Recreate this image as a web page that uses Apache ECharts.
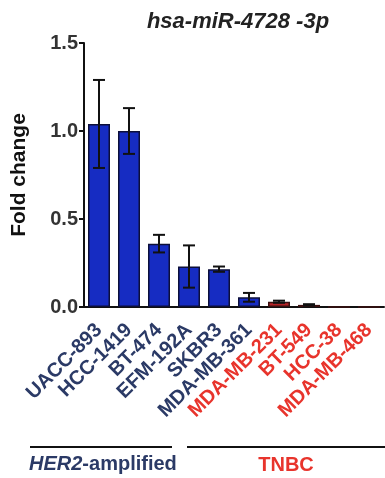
<!DOCTYPE html>
<html><head><meta charset="utf-8">
<script src="https://cdn.jsdelivr.net/npm/echarts@6/dist/echarts.min.js"></script>
<style>html,body{margin:0;padding:0;background:#fff}#c{width:385px;height:478px}</style>
</head><body><div id="c"></div>
<script>
const categories = ['UACC-893','HCC-1419','BT-474','EFM-192A','SKBR3','MDA-MB-361','MDA-MB-231','BT-549','HCC-38','MDA-MB-468'];
const groups = ['HER2','HER2','HER2','HER2','HER2','HER2','TNBC','TNBC','TNBC','TNBC'];
const foldChange = [1.04, 1.00, 0.36, 0.23, 0.215, 0.055, 0.03, 0.012, 0.0, 0.0];
const errors = [0.25, 0.13, 0.05, 0.12, 0.015, 0.025, 0.006, 0.004, 0.0, 0.0];
const yTicks = [0, 0.5, 1.0, 1.5];

const FONT = '"Liberation Sans", Arial, Helvetica, sans-serif';
const NAVY = '#2b3a66', RED = '#e8342c';
const chart = echarts.init(document.getElementById('c'));
const errData = categories.map((c, i) => [i, foldChange[i] - errors[i], foldChange[i] + errors[i]]);
chart.setOption({
  animation: false,
  title: { text: 'hsa-miR-4728 -3p', left: 233, top: 6, textAlign: 'center',
    textStyle: { fontFamily: FONT, fontSize: 22, fontWeight: 'bold', fontStyle: 'italic', color: '#222' } },
  grid: { left: 84, right: 1, top: 43, bottom: 171, containLabel: false },
  xAxis: {
    type: 'category', data: categories,
    axisLine: { lineStyle: { color: '#111', width: 2 } },
    axisTick: { alignWithLabel: true, length: 4, lineStyle: { color: '#111', width: 2 } },
    axisLabel: { rotate: 45, interval: 0, margin: 20, fontFamily: FONT, fontSize: 20, fontWeight: 'bold',
      color: (v, i) => groups[i] === 'TNBC' ? RED : NAVY }
  },
  yAxis: {
    type: 'value', min: 0, max: 1.5, interval: 0.5,
    name: 'Fold change', nameLocation: 'middle', nameGap: 54,
    nameTextStyle: { fontFamily: FONT, fontSize: 21, fontWeight: 'bold', color: '#111' },
    axisLine: { show: true, lineStyle: { color: '#111', width: 2 } },
    axisTick: { show: true, length: 5, lineStyle: { color: '#111', width: 2 } },
    splitLine: { show: false },
    axisLabel: { margin: 6, fontFamily: FONT, fontSize: 20, fontWeight: 'bold', color: '#333',
      formatter: v => yTicks.includes(v) ? v.toFixed(1) : '' }
  },
  series: [
    { type: 'bar', barWidth: 22,
      data: foldChange.map((v, i) => ({ value: v, itemStyle: {
        color: groups[i] === 'TNBC' ? '#b42226' : '#162cc2',
        borderColor: groups[i] === 'TNBC' ? '#3a1010' : '#0c0f3a', borderWidth: 1.5 } })) },
    { type: 'custom', data: errData, z: 5,
      renderItem: (params, api) => {
        const x = api.value(0);
        const lo = api.coord([x, api.value(1)]);
        const hi = api.coord([x, api.value(2)]);
        const hw = 6;
        const st = { stroke: '#111', lineWidth: 2 };
        if (Math.abs(hi[1] - lo[1]) < 1) return null;
        return { type: 'group', children: [
          { type: 'line', shape: { x1: hi[0], y1: hi[1], x2: lo[0], y2: lo[1] }, style: st },
          { type: 'line', shape: { x1: hi[0]-hw, y1: hi[1], x2: hi[0]+hw, y2: hi[1] }, style: st },
          { type: 'line', shape: { x1: lo[0]-hw, y1: lo[1], x2: lo[0]+hw, y2: lo[1] }, style: st }
        ]};
      } }
  ],
  graphic: [
    { type: 'line', shape: { x1: 30, y1: 447, x2: 172, y2: 447 }, style: { stroke: '#111', lineWidth: 2 } },
    { type: 'line', shape: { x1: 187, y1: 447, x2: 385, y2: 447 }, style: { stroke: '#111', lineWidth: 2 } },
    { type: 'text', left: 29, top: 454, style: { text: '{i|HER2}{n|-amplified}',
      rich: { i: { fontFamily: FONT, fontSize: 20, fontWeight: 'bold', fontStyle: 'italic', fill: NAVY },
              n: { fontFamily: FONT, fontSize: 20, fontWeight: 'bold', fill: NAVY } } } },
    { type: 'text', x: 286, y: 465, style: { text: 'TNBC', align: 'center', verticalAlign: 'middle',
      fontFamily: FONT, fontSize: 20, fontWeight: 'bold', fill: RED } }
  ]
});
</script></body></html>
